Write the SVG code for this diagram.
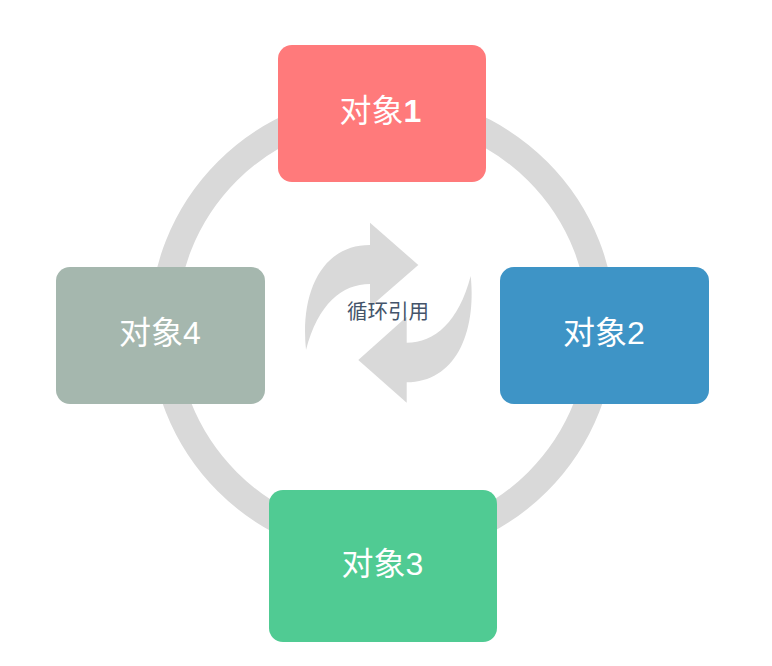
<svg xmlns="http://www.w3.org/2000/svg" width="772" height="666" viewBox="0 0 772 666">
<style>
.box{stroke:none}
.label{font-family:"Liberation Sans","Noto Sans CJK SC",sans-serif;font-size:32px;fill:#fff;text-anchor:middle}
.arrow{fill:#d9d9d9}
.center{font-family:"Liberation Sans","Noto Sans CJK SC",sans-serif;font-size:20.5px;fill:#44546a;text-anchor:middle}
</style>
<rect width="772" height="666" fill="#fff"/>
<g id="connectors">
<circle id="ring" cx="382.5" cy="326.5" r="219.5" fill="none" stroke="#d9d9d9" stroke-width="27"/>
</g>
<g id="cycle-arrows">
<path class="arrow" d="M306 350C300 292 322 245 370 245V222.7L418.3 265L370 307V284C342 284 318 304 306 350Z"/>
<path class="arrow" d="M470.7 276C476.7 334 454.7 382.3 406.7 382.3V402.7L358.3 360L406.7 316.7V342.7C434.7 342.7 458.7 322 470.7 276Z"/>
</g>
<g id="node1">
<rect class="box" x="278" y="45" width="208" height="137" rx="14" fill="#ff7a7b"/>
<text class="label" x="380.5" y="122">对象<tspan font-weight="700">1</tspan></text>
</g>
<g id="node2">
<rect class="box" x="500" y="267" width="209" height="137" rx="14" fill="#3e94c6"/>
<text class="label" x="604" y="344">对象2</text>
</g>
<g id="node3">
<rect class="box" x="269" y="490" width="228" height="152" rx="14" fill="#50cb93"/>
<text class="label" x="382.5" y="575">对象3</text>
</g>
<g id="node4">
<rect class="box" x="56" y="267" width="209" height="137" rx="14" fill="#a5b7ae"/>
<text class="label" x="160" y="344">对象4</text>
</g>
<g id="center-label">
<text class="center" x="388" y="319">循环引用</text>
</g>
</svg>
